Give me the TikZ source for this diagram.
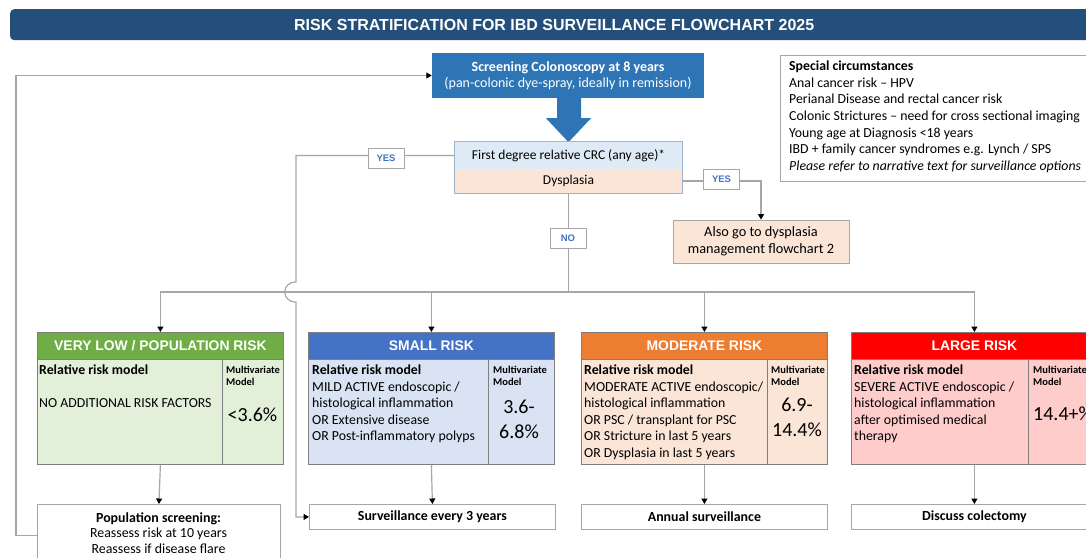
\documentclass[tikz,border=0pt]{standalone}
\usepackage{fontspec}
\setmainfont{Carlito}
\newfontfamily\arialf{Liberation Sans}
\usetikzlibrary{arrows.meta,calc}
\definecolor{titlebg}{HTML}{244F7A}
\definecolor{scrblue}{HTML}{2E75B6}
\definecolor{ltblue}{HTML}{DEEBF7}
\definecolor{ltpeach}{HTML}{FBE5D6}
\definecolor{decborder}{HTML}{9FB4CC}
\definecolor{lgray}{HTML}{A6A6A6}
\definecolor{bgray}{HTML}{7F7F7F}
\definecolor{labblue}{HTML}{4472C4}
\definecolor{cVLh}{HTML}{70AD47}
\definecolor{cVLb}{HTML}{E2F0D9}
\definecolor{cSMh}{HTML}{4472C4}
\definecolor{cSMb}{HTML}{DAE3F3}
\definecolor{cMOh}{HTML}{ED7D31}
\definecolor{cMOb}{HTML}{FBE5D6}
\definecolor{cLAh}{HTML}{FF0000}
\definecolor{cLAb}{HTML}{FFCCCC}
\newcommand{\setfs}[2]{\fontsize{#1}{#2}\selectfont}
\begin{document}
\begin{tikzpicture}[x=1pt,y=-1pt,
  conn/.style={draw=lgray, line width=1.2pt},
  arr/.style={-{Triangle[length=5.5pt,width=6pt,color=black]}},
  lab/.style={draw=lgray, fill=white, line width=0.8pt, inner sep=0pt, minimum width=36pt, minimum height=20pt, font=\arialf\bfseries\setfs{9.5}{10}, text=labblue},
  riskh/.style={draw=bgray, line width=0.8pt, anchor=north west, minimum width=246pt, minimum height=27pt, inner sep=0pt, text=white, font=\arialf\bfseries\setfs{13.9}{15}},
  riskb/.style={draw=bgray, line width=0.8pt, anchor=north west, minimum width=246pt, minimum height=105pt, inner sep=0pt},
  btxt/.style={anchor=north west, inner sep=0pt, align=left, font=\setfs{13.8}{16.5}},
  mvt/.style={anchor=north west, inner sep=0pt, align=left, font=\bfseries\setfs{10.5}{12}},
  pct/.style={inner sep=0pt, align=center, font=\setfs{20}{25}},
  outbox/.style={draw=lgray, line width=0.8pt, fill=white, anchor=north west, minimum width=246pt, minimum height=25pt, inner sep=0pt, font=\bfseries\setfs{13.9}{15}},
  divl/.style={draw=bgray, line width=0.8pt}
]
\useasboundingbox (0,0) rectangle (1086,557);
\clip (0,0) rectangle (1086,557);
\fill[white] (0,0) rectangle (1086,557);

% title
\node[fill=titlebg, rounded corners=4pt, anchor=north west, minimum width=1088pt, minimum height=31pt, inner sep=0pt, text=white, font=\arialf\bfseries\setfs{16}{18}] (title) at (10,9) {RISK STRATIFICATION FOR IBD SURVEILLANCE FLOWCHART 2025};

% screening box
\node[fill=scrblue, minimum width=272pt, minimum height=45pt, inner sep=0pt, text=white, align=center, font=\setfs{14}{16}] (screen) at (568,75.5) {\textbf{Screening Colonoscopy at 8 years}\\(pan-colonic dye-spray, ideally in remission)};

% block arrow
\fill[scrblue] ($(screen.south)+(-11,0)$) -- ($(screen.south)+(13,0)$) -- ($(screen.south)+(13,20)$) -- ($(screen.south)+(23,20)$) -- ($(screen.south)+(0.5,44)$) -- ($(screen.south)+(-22,20)$) -- ($(screen.south)+(-11,20)$) -- cycle;

% decision
\node[fill=ltblue, minimum width=227pt, minimum height=27pt, inner sep=0pt, font=\setfs{13.5}{15}] (dtop) at (568.5,155.5) {First degree relative CRC (any age)*};
\node[fill=ltpeach, minimum width=227pt, minimum height=24pt, inner sep=0pt, font=\setfs{13.5}{15}] (dbot) at (568.5,181) {Dysplasia};
\draw[draw=decborder, line width=1pt] (dtop.north west) rectangle (dbot.south east);

% dysplasia management
\node[fill=ltpeach, draw=lgray, line width=0.8pt, minimum width=176pt, minimum height=43pt, inner sep=0pt, align=center, font=\setfs{14.3}{17}] (also) at (761,241.5) {Also go to dysplasia\\management flowchart 2};

% special circumstances
\node[draw=lgray, line width=0.8pt, anchor=north west, minimum width=330pt, minimum height=126pt, inner sep=0pt] (spec) at (780,55) {};
\node[anchor=north west, inner sep=0pt, align=left, font=\setfs{13.8}{16.67}] (spectxt) at (789,60.5) {\textbf{Special circumstances}\\Anal cancer risk -- HPV\\Perianal Disease and rectal cancer risk\\Colonic Strictures -- need for cross sectional imaging\\Young age at Diagnosis <18 years\\IBD + family cancer syndromes e.g. Lynch / SPS\\\textit{Please refer to narrative text for surveillance options}};

% risk boxes
\node[riskh, fill=cVLh] (vlh) at (37,332) {VERY LOW / POPULATION RISK};
\node[riskb, fill=cVLb] (vlb) at (37,359) {};
\draw[divl] (222,359) -- (222,464);
\node[btxt] (vlt) at (39,365) {\textbf{Relative risk model}\\[16.5pt]NO ADDITIONAL RISK FACTORS};
\node[mvt] (vlm) at (226,366) {Multivariate\\Model};
\node[pct] (vlp) at (252.5,415) {<3.6\%};

\node[riskh, fill=cSMh] (smh) at (308,332) {SMALL RISK};
\node[riskb, fill=cSMb] (smb) at (308,359) {};
\draw[divl] (488,359) -- (488,464);
\node[btxt] (smt) at (312,365) {\textbf{Relative risk model}\\MILD ACTIVE endoscopic /\\histological inflammation\\OR Extensive disease\\OR Post-inflammatory polyps};
\node[mvt] (smm) at (493,366) {Multivariate\\Model};
\node[pct] (smp) at (519,419) {3.6-\\6.8\%};

\node[riskh, fill=cMOh] (moh) at (581,332) {MODERATE RISK};
\node[riskb, fill=cMOb] (mob) at (581,359) {};
\draw[divl] (767,359) -- (767,464);
\node[btxt] (mot) at (584,365) {\textbf{Relative risk model}\\MODERATE ACTIVE endoscopic/\\histological inflammation\\OR PSC / transplant for PSC\\OR Stricture in last 5 years\\OR Dysplasia in last 5 years};
\node[mvt] (mom) at (771,366) {Multivariate\\Model};
\node[pct] (mop) at (797,417) {6.9-\\14.4\%};

\node[riskh, fill=cLAh] (lah) at (851,332) {LARGE RISK};
\node[riskb, fill=cLAb] (lab) at (851,359) {};
\draw[divl] (1028,359) -- (1028,464);
\node[btxt] (lat) at (854,365) {\textbf{Relative risk model}\\SEVERE ACTIVE endoscopic /\\histological inflammation\\after optimised medical\\therapy};
\node[mvt] (lam) at (1033,366) {Multivariate\\Model};
\node[pct, anchor=west] (lap) at (1033,414) {14.4+\%};

% outcome boxes
\node[outbox, minimum width=243pt, minimum height=62pt] (pop) at (37,504) {};
\node[anchor=north, inner sep=0pt, align=center, font=\setfs{13.9}{15.5}] (poptxt) at (158.5,512.5) {\textbf{Population screening:}\\Reassess risk at 10 years\\Reassess if disease flare};
\node[outbox] (surv) at (309,504) {Surveillance every 3 years};
\node[outbox] (annual) at (581,504) {Annual surveillance};
\node[outbox] (colect) at (851,504) {Discuss colectomy};

% connectors
\coordinate (split) at (568.5,292);
\coordinate (hopA) at (296,282);
\coordinate (hopB) at (296,302);
\draw[conn] (dbot.south) -- (split);
\draw[conn,arr] (split) -| (vlh.north);
\draw[conn,arr] (split) -| (smh.north);
\draw[conn,arr] (split) -| (moh.north);
\draw[conn,arr] (split) -| (lah.north);
\draw[conn,arr] (dtop.west) -| (hopA) .. controls +(-15,0) and +(-15,0) .. (hopB) |- (surv.west);
\draw[conn,arr] (dbot.east) -| (also.north);
\draw[conn,arr] (pop.west) -- ++(-21,0) |- (screen.west);
\draw[conn,arr] (vlb.south) -- (pop.north);
\draw[conn,arr] (smb.south) -- (surv.north);
\draw[conn,arr] (mob.south) -- (annual.north);
\draw[conn,arr] (lab.south) -- (colect.north);

% labels
\node[lab] (yes1) at (386,158) {YES};
\node[lab] (yes2) at (721.5,179) {YES};
\node[lab] (no1) at (568,238) {NO};
\end{tikzpicture}
\end{document}
